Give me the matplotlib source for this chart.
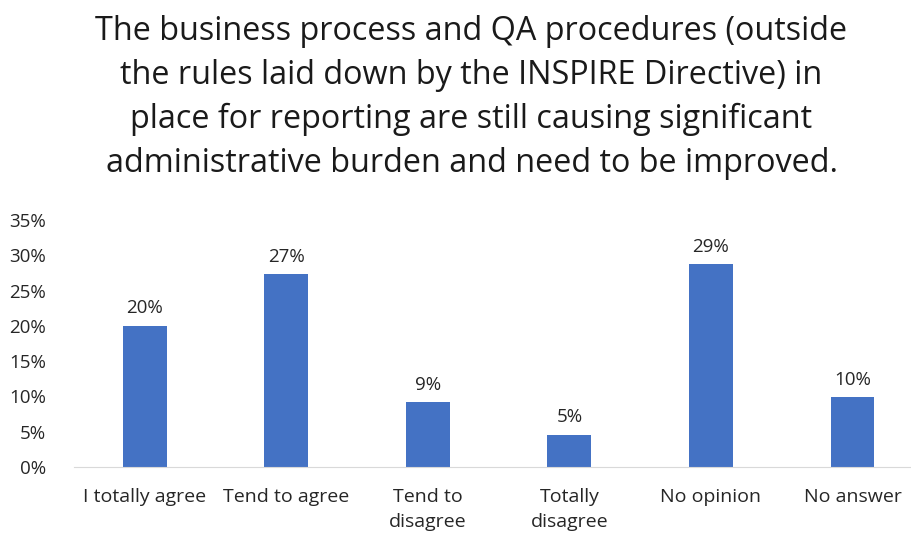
import matplotlib
matplotlib.use("Agg")
import matplotlib.pyplot as plt
from matplotlib.ticker import PercentFormatter

plt.rcParams['font.family'] = ['Open Sans', 'DejaVu Sans']

categories = ["I totally agree", "Tend to agree", "Tend to\ndisagree", "Totally\ndisagree", "No opinion", "No answer"]
values = [0.20, 0.273, 0.092, 0.046, 0.287, 0.099]
labels = ["20%", "27%", "9%", "5%", "29%", "10%"]
title = ("The business process and QA procedures (outside\n"
         "the rules laid down by the INSPIRE Directive) in\n"
         "place for reporting are still causing significant\n"
         "administrative burden and need to be improved.")

fig = plt.figure(figsize=(9.12, 5.36), dpi=100)
ax = fig.add_axes([0.081, 0.1287, 0.919, 0.4609])
x = list(range(len(categories)))
ax.bar(x, values, width=0.31, color="#4472C4")
for xi, v, lab in zip(x, values, labels):
    ax.text(xi, v + 0.012, lab, ha="center", va="bottom", fontsize=13.5, color="#262626")

ax.set_xlim(-0.5, 5.42)
ax.set_ylim(0, 0.35)
ax.set_yticks([i * 0.05 for i in range(8)])
ax.yaxis.set_major_formatter(PercentFormatter(1.0, decimals=0))
ax.set_xticks(x)
ax.set_xticklabels(categories, fontsize=14, color="#262626", linespacing=1.5)
ax.tick_params(axis="y", length=0, labelsize=13.5, labelcolor="#262626", pad=20)
ax.tick_params(axis="x", length=0, pad=15)
for s in ["top", "right", "left"]:
    ax.spines[s].set_visible(False)
ax.spines["bottom"].set_color("#D9D9D9")

fig.text(0.517, 0.972, title, ha="center", va="top", fontsize=23.3, color="#1a1a1a", linespacing=1.43)

fig.savefig("out.png", dpi=100)
